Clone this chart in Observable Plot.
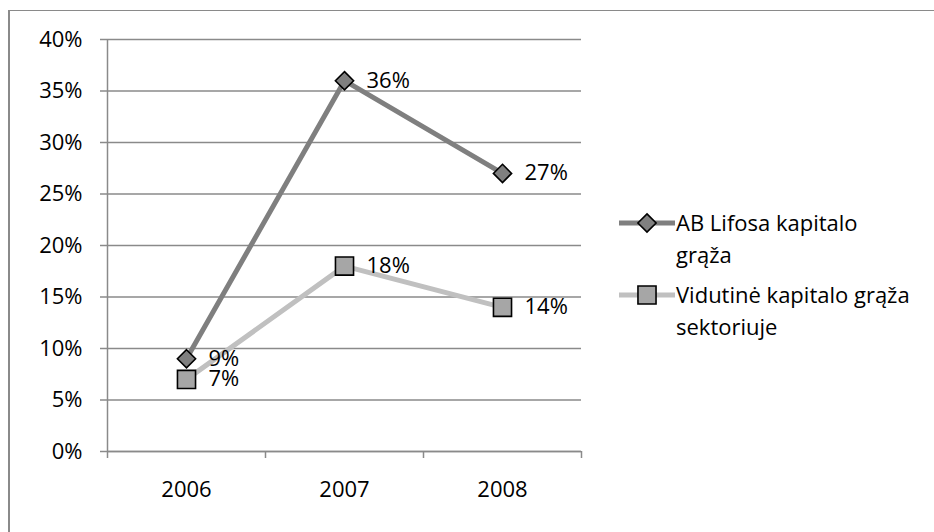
<!DOCTYPE html>
<html>
<head>
<meta charset="utf-8">
<script src="https://cdn.jsdelivr.net/npm/d3@7"></script>
<script src="https://cdn.jsdelivr.net/npm/@observablehq/plot@0.6"></script>
<style>
  html, body { margin: 0; padding: 0; background: #fff; }
  #wrap { position: relative; width: 934px; height: 532px; overflow: hidden; font-family: "Open Sans", sans-serif; }
  #frame { position: absolute; left: 8px; top: 10px; width: 1000px; height: 600px;
           border-left: 2px solid #8a8a8a; border-top: 1.5px solid #8a8a8a; }
  #chart { position: absolute; left: 0; top: 0; }
  #legend { position: absolute; left: 619px; top: 206px; font-size: 22px; color: #000; }
  .item { display: flex; align-items: flex-start; margin-bottom: 8px; }
  .item svg { flex: none; margin-top: 2px; }
  .item span { line-height: 32px; margin-left: 1px; }
</style>
</head>
<body>
<div id="wrap">
  <div id="frame"></div>
  <div id="chart"></div>
  <div id="legend"></div>
</div>
<script>
// Return on capital, 2006–2008
const years = [2006, 2007, 2008];
const lifosa = [0.09, 0.36, 0.27];
const sector = [0.07, 0.18, 0.14];
const seriesNames = ["AB Lifosa kapitalo grąža", "Vidutinė kapitalo grąža sektoriuje"];
const yTicks = [0, 0.05, 0.10, 0.15, 0.20, 0.25, 0.30, 0.35, 0.40];

const lineColors = ["#7f7f7f", "#c0c0c0"];
const markerFills = ["#808080", "#a6a6a6"];
const symbols = ["diamond2", "square"];
const radii = [8.2, 10.2];

const rows = [];
years.forEach((yr, i) => {
  rows.push({series: seriesNames[0], year: yr, value: lifosa[i], k: 0});
  rows.push({series: seriesNames[1], year: yr, value: sector[i], k: 1});
});

// category edges for the boundary tick marks
const edges = [years[0] - 0.5, ...years.map(y => y + 0.5)];
const pct = d3.format(".0%");
const gridColor = "#8a8a8a";

const marks = [
  Plot.gridY(yTicks, {stroke: gridColor, strokeOpacity: 1, strokeWidth: 1.5}),
  Plot.axisY(yTicks, {tickFormat: pct, tickSize: 7, tickPadding: 18, stroke: gridColor, strokeWidth: 1.5, fontSize: 22, label: null}),
  Plot.axisX(edges, {tickFormat: () => "", tickSize: 7, stroke: gridColor, strokeWidth: 1.5, label: null}),
  Plot.axisX(years, {tickFormat: d3.format("d"), tickSize: 0, tickPadding: 30, fontSize: 22, label: null}),
  Plot.ruleY([0], {stroke: gridColor, strokeWidth: 1.5}),
  Plot.ruleX([edges[0]], {stroke: gridColor, strokeWidth: 1.5})
];

[1, 0].forEach(k => {
  const data = rows.filter(d => d.k === k);
  marks.push(Plot.line(data, {x: "year", y: "value", stroke: lineColors[k], strokeWidth: 5}));
});
[1, 0].forEach(k => {
  const data = rows.filter(d => d.k === k);
  marks.push(Plot.dot(data, {x: "year", y: "value", symbol: () => symbols[k], r: radii[k], fill: markerFills[k], stroke: "#000", strokeWidth: 1.6}));
  marks.push(Plot.text(data, {x: "year", y: "value", text: d => pct(d.value), dx: 22, textAnchor: "start", fontSize: 22, fill: "#000"}));
});

const chart = Plot.plot({
  width: 934,
  height: 532,
  marginLeft: 107,
  marginRight: 353,
  marginTop: 39,
  marginBottom: 81,
  x: {type: "linear", domain: [edges[0], edges[edges.length - 1]]},
  y: {domain: [0, 0.40]},
  style: {fontFamily: "Open Sans, sans-serif", background: "transparent", color: "#000"},
  marks
});
document.getElementById("chart").appendChild(chart);

// legend
const legendLines = [["AB Lifosa kapitalo", "grąža"], ["Vidutinė kapitalo grąža", "sektoriuje"]];
const legend = document.getElementById("legend");
legendLines.forEach((lines, k) => {
  const item = document.createElement("div");
  item.className = "item";
  const svg = d3.create("svg").attr("width", 56).attr("height", 30);
  svg.append("line").attr("x1", 0).attr("x2", 56).attr("y1", 15).attr("y2", 15)
    .attr("stroke", lineColors[k]).attr("stroke-width", 5).attr("stroke-linecap", "round");
  const sym = k === 0 ? d3.symbolDiamond2 : d3.symbolSquare;
  const size = Math.PI * radii[k] * radii[k];
  svg.append("path").attr("d", d3.symbol(sym, size)()).attr("transform", "translate(28,15)")
    .attr("fill", markerFills[k]).attr("stroke", "#000").attr("stroke-width", 1.6);
  item.appendChild(svg.node());
  const span = document.createElement("span");
  span.innerHTML = lines.join("<br>");
  item.appendChild(span);
  legend.appendChild(item);
});
</script>
</body>
</html>
